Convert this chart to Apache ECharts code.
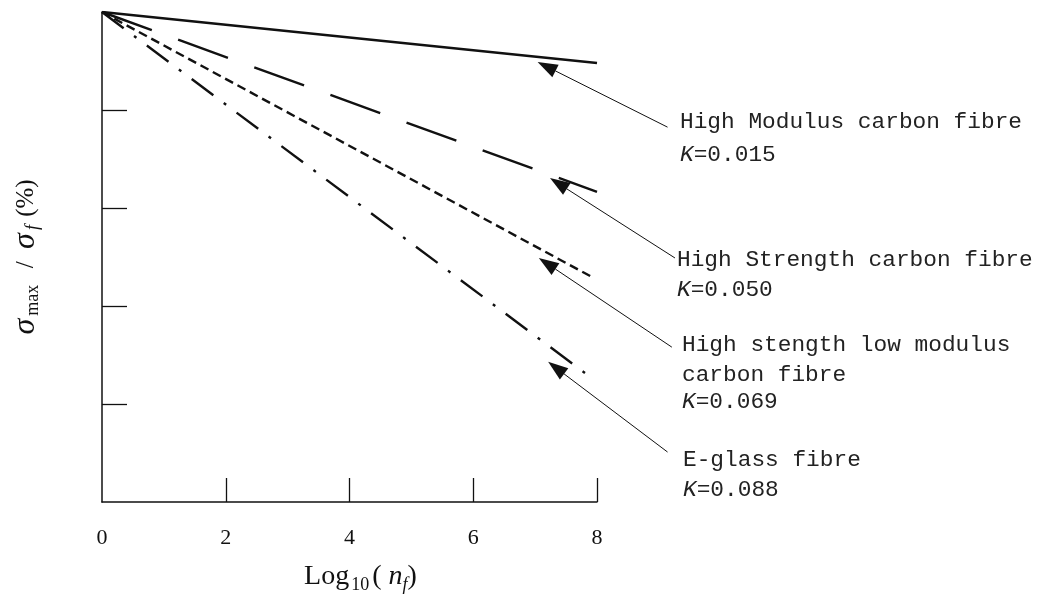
<!DOCTYPE html>
<html>
<head>
<meta charset="utf-8">
<script src="https://cdn.jsdelivr.net/npm/echarts@6/dist/echarts.min.js"></script>
<style>
  html, body { margin: 0; padding: 0; background: #fff; }
  #chart { width: 1039px; height: 606px; }
</style>
</head>
<body>
<div id="chart"></div>
<script>
// x = Log10(n_f), y = sigma_max / sigma_f (%)
const xTicks = [0, 2, 4, 6, 8];
const yTicks = [20, 40, 60, 80];

const highModulus = [[0, 100], [8, 89.6]];
const highStrength = [[0, 100], [8, 63.3]];
const lowModulus = [[0, 100], [7.95, 45.7]];
const eGlass = [[0, 100], [7.85, 25.9]];

// arrows: [tail, tip] in data units
const arrowPoints = [
  [[9.14, 76.5], [7.04, 89.8]],
  [[9.26, 49.8], [7.24, 66.1]],
  [[9.21, 31.6], [7.06, 49.8]],
  [[9.14, 10.2], [7.21, 28.6]]
];

const labelLines = [
  ["High Modulus carbon fibre", "{k|K}=0.015"],
  ["High Strength carbon fibre", "{k|K}=0.050"],
  ["High stength low modulus", "carbon fibre", "{k|K}=0.069"],
  ["E-glass fibre", "{k|K}=0.088"]
];

const ink = "#111";
const serif = "'Liberation Serif', 'DejaVu Serif', serif";
const mono = "'Liberation Mono', 'DejaVu Sans Mono', monospace";

const chart = echarts.init(document.getElementById("chart"));

function lineSeries(data, type) {
  return {
    type: "line",
    data: data,
    symbol: "none",
    silent: true,
    lineStyle: { color: ink, width: 2.4, type: type, cap: "butt" },
    z: 3
  };
}

chart.setOption({
  animation: false,
  backgroundColor: "#fff",
  grid: { left: 102, right: 442, top: 12, bottom: 104 },
  xAxis: {
    type: "value",
    min: 0, max: 8, interval: 2,
    name: "Log{sub|10}( {it|n}{subi|f})",
    nameLocation: "middle",
    nameGap: 58,
    nameTextStyle: {
      fontFamily: serif, fontSize: 28, color: ink, padding: [0, 0, 0, 22],
      rich: {
        it: { fontFamily: serif, fontSize: 28, fontStyle: "italic", color: ink },
        sub: { fontFamily: serif, fontSize: 18, color: ink, verticalAlign: "bottom", padding: [16, 3, 0, 2] },
        subi: { fontFamily: serif, fontSize: 18, fontStyle: "italic", color: ink, verticalAlign: "bottom", padding: [12, 0, 0, 0] }
      }
    },
    axisLine: { lineStyle: { color: ink, width: 1.5 } },
    axisTick: { inside: true, length: 24, customValues: [2, 4, 6, 8], lineStyle: { color: ink, width: 1.3 } },
    axisLabel: { customValues: xTicks, margin: 25, fontFamily: serif, fontSize: 22, color: ink },
    splitLine: { show: false }
  },
  yAxis: {
    type: "value",
    min: 0, max: 100, interval: 20,
    name: "{s|σ}{sub|max}  /  {s|σ}{subi|f} (%)",
    nameLocation: "middle",
    nameRotate: 90,
    nameGap: 60,
    nameTextStyle: {
      fontFamily: serif, fontSize: 25, color: ink,
      rich: {
        s: { fontFamily: serif, fontSize: 32, fontStyle: "italic", color: ink },
        sub: { fontFamily: serif, fontSize: 18, color: ink, verticalAlign: "bottom", padding: [14, 4, 0, 3] },
        subi: { fontFamily: serif, fontSize: 18, fontStyle: "italic", color: ink, verticalAlign: "bottom", padding: [12, 2, 0, 3] }
      }
    },
    axisLine: { lineStyle: { color: ink, width: 1.5 } },
    axisTick: { inside: true, length: 25, customValues: yTicks, lineStyle: { color: ink, width: 1.3 } },
    axisLabel: { show: false },
    splitLine: { show: false }
  },
  series: [
    lineSeries(highModulus, "solid"),
    lineSeries(highStrength, [53, 28]),
    lineSeries(lowModulus, [9, 5]),
    lineSeries(eGlass, [27, 13, 3, 13])
  ]
});

// annotation arrows and labels
const graphics = [];
arrowPoints.forEach(function (pair) {
  const tail = chart.convertToPixel({ gridIndex: 0 }, pair[0]);
  const tip = chart.convertToPixel({ gridIndex: 0 }, pair[1]);
  const dx = tip[0] - tail[0], dy = tip[1] - tail[1];
  const len = Math.sqrt(dx * dx + dy * dy);
  const ux = dx / len, uy = dy / len;
  const headLen = 20, headHalf = 7;
  const bx = tip[0] - ux * headLen, by = tip[1] - uy * headLen;
  graphics.push({
    type: "line",
    shape: { x1: tail[0], y1: tail[1], x2: bx, y2: by },
    style: { stroke: ink, lineWidth: 1 },
    z: 10
  });
  graphics.push({
    type: "polygon",
    shape: { points: [tip, [bx - uy * headHalf, by + ux * headHalf], [bx + uy * headHalf, by - ux * headHalf]] },
    style: { fill: ink },
    z: 10
  });
});

const labelPos = [
  { x: 680, ys: [122, 155] },
  { x: 677, ys: [260, 290] },
  { x: 682, ys: [345, 375, 402] },
  { x: 683, ys: [460, 490] }
];
labelLines.forEach(function (lines, i) {
  lines.forEach(function (txt, j) {
    graphics.push({
      type: "text",
      x: labelPos[i].x,
      y: labelPos[i].ys[j],
      style: {
        text: txt,
        font: "22.8px " + mono,
        fill: "#222",
        verticalAlign: "middle",
        align: "left",
        rich: { k: { fontFamily: mono, fontSize: 22.8, fontStyle: "italic", fill: "#222" } }
      },
      z: 10
    });
  });
});

chart.setOption({ graphic: graphics });
</script>
</body>
</html>
